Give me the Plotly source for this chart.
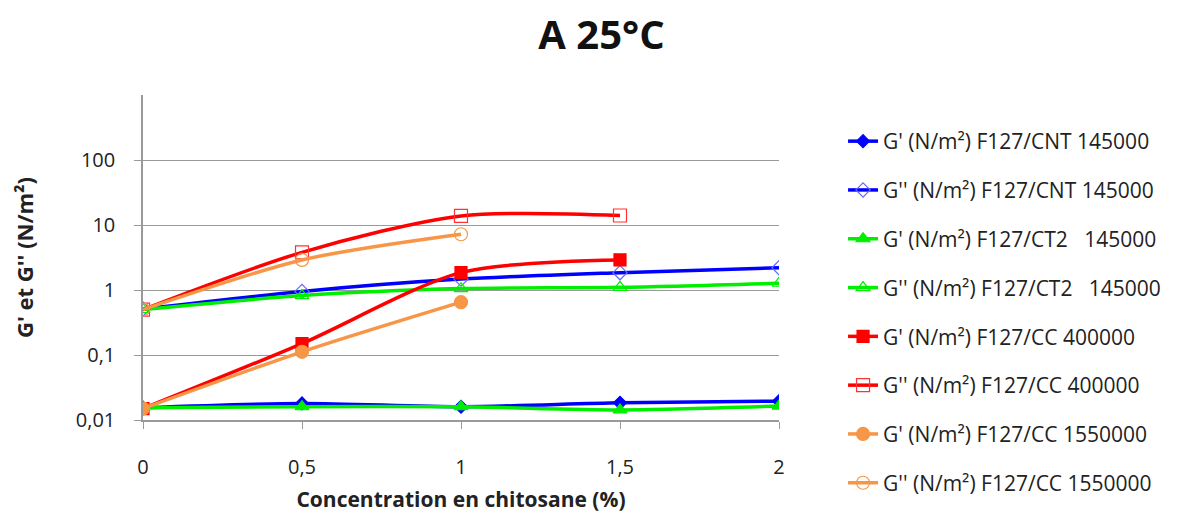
import plotly.graph_objects as go

x_vals = [0, 0.5, 1, 1.5, 2]
x_ticktext = ["0", "0,5", "1", "1,5", "2"]
y_tickvals = [0.01, 0.1, 1, 10, 100]
y_ticktext = ["0,01", "0,1", "1", "10", "100"]

names = [
    "G' (N/m²) F127/CNT 145000",
    "G'' (N/m²) F127/CNT 145000",
    "G' (N/m²) F127/CT2   145000",
    "G'' (N/m²) F127/CT2   145000",
    "G' (N/m²) F127/CC 400000",
    "G'' (N/m²) F127/CC 400000",
    "G' (N/m²) F127/CC 1550000",
    "G'' (N/m²) F127/CC 1550000",
]

gp_cnt = [0.0155, 0.018, 0.016, 0.0184, 0.0195]
gpp_cnt = [0.51, 0.95, 1.47, 1.85, 2.2]
gp_ct2 = [0.0155, 0.016, 0.016, 0.0143, 0.0164]
gpp_ct2 = [0.5, 0.82, 1.05, 1.1, 1.27]
gp_cc400 = [0.015, 0.15, 1.85, 2.9]
gpp_cc400 = [0.5, 3.8, 13.8, 14]
gp_cc155 = [0.015, 0.112, 0.65]
gpp_cc155 = [0.5, 2.9, 7.2]

series = [gp_cnt, gpp_cnt, gp_ct2, gpp_ct2, gp_cc400, gpp_cc400, gp_cc155, gpp_cc155]
colors = ["#0000FF", "#0000FF", "#00EE00", "#00EE00", "#FF0000", "#FF0000", "#F79646", "#F79646"]
symbols = ["diamond", "diamond-open", "triangle-up", "triangle-up-open",
           "square", "square-open", "circle", "circle-open"]
msizes = [10, 11, 12, 12, 12, 13, 13, 13]
mcolors = ["#0000FF", "#6666FF", "#00EE00", "#00EE00", "#FF0000", "#FF3333", "#F79646", "#F79646"]

fig = go.Figure()
for i, (nm, ys) in enumerate(zip(names, series)):
    fig.add_trace(go.Scatter(
        x=x_vals[:len(ys)], y=ys, name=nm, mode="lines+markers",
        line=dict(color=colors[i], width=3.5, shape="spline", smoothing=0.8),
        marker=dict(symbol=symbols[i], size=msizes[i], color=mcolors[i],
                    line=dict(width=1.2, color=mcolors[i])),
        legendgroup=f"g{i}",
    ))

fig.update_layout(
    width=1203, height=527,
    margin=dict(l=143, r=424, t=95, b=107, autoexpand=False),
    paper_bgcolor="white", plot_bgcolor="white",
    font=dict(family="Open Sans, Liberation Sans, sans-serif", color="#222222"),
    title=dict(text="<b>A 25°C</b>", x=0.5, xanchor="center", xref="container",
               y=1 - 35 / 527, yref="container", yanchor="middle",
               font=dict(size=40, color="#111111")),
    showlegend=True,
    legend=dict(x=1.1007, xanchor="left", xref="paper",
                y=0.92, yref="paper", yanchor="top", maxheight=440,
                font=dict(size=21, color="#222222"), tracegroupgap=18.5,
                bgcolor="rgba(0,0,0,0)"),
    xaxis=dict(range=[0, 2], tickvals=x_vals, ticktext=x_ticktext,
               showgrid=False, showline=True, linecolor="#9a9a9a", linewidth=1.5,
               ticks="outside", ticklen=7, tickcolor="#9a9a9a", zeroline=False,
               ticklabelstandoff=21,
               tickfont=dict(size=20, color="#222222"),
               title=dict(text="<b>Concentration en chitosane (%)</b>", font=dict(size=21), standoff=14)),
    yaxis=dict(type="log", range=[-2, 3], tickvals=y_tickvals, ticktext=y_ticktext,
               showgrid=True, gridcolor="#9a9a9a", gridwidth=1.2,
               showline=True, linecolor="#9a9a9a", linewidth=1.5,
               ticks="outside", ticklen=7, tickcolor="#9a9a9a", zeroline=False,
               ticklabelstandoff=15,
               tickfont=dict(size=20, color="#222222"),
               title=dict(text="<b>G' et G'' (N/m²)</b>", font=dict(size=22), standoff=36)),
)

fig.write_html("out.html")
